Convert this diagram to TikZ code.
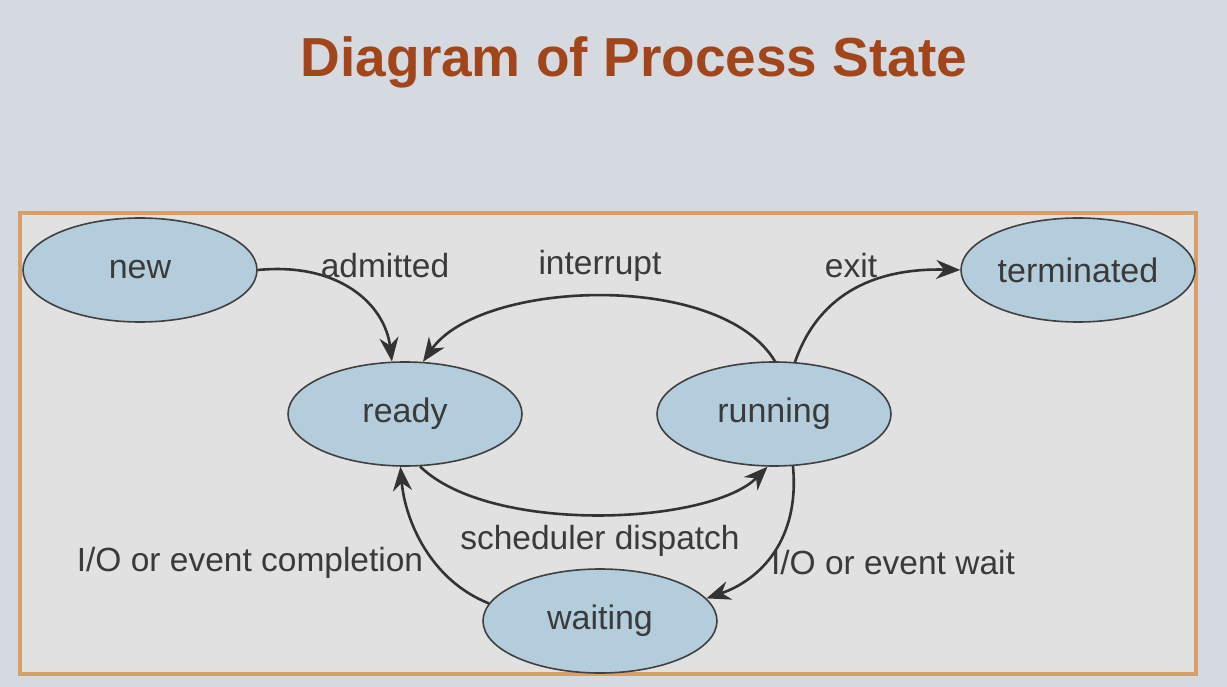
\documentclass[tikz,border=0pt]{standalone}
\usepackage{fontspec}
\setmainfont{Liberation Sans}
\usetikzlibrary{shapes.geometric, arrows.meta}

\definecolor{slidebg}{HTML}{D4DAE0}
\definecolor{panelbg}{HTML}{E1E1E1}
\definecolor{panelframe}{HTML}{D49F68}
\definecolor{titlerust}{HTML}{A2451B}
\definecolor{statefill}{HTML}{B4CDDD}
\definecolor{inktext}{HTML}{3A3A3A}

\tikzset{
    state/.style={ellipse, draw=black!75, line width=1.6pt, fill=statefill,
        minimum width=234pt, minimum height=104pt, inner sep=0pt,
        text=inktext, font=\fontsize{34}{38}\selectfont},
    trans/.style={line width=2.6pt, draw=black!80,
        -{Stealth[length=24pt,width=19pt]}},
    lbl/.style={text=inktext, font=\fontsize{33.5}{38}\selectfont}
}

\begin{document}
\begin{tikzpicture}[x=1pt, y=-1pt]
    % Slide background and panel
    \fill[slidebg] (0,0) rectangle (1227,687);
    \useasboundingbox (0,0) rectangle (1227,687);
    \draw[panelframe, line width=4pt, fill=panelbg] (20,213) rectangle (1196,674);

    % Title
    \node[text=titlerust, font=\bfseries\fontsize{55}{62}\selectfont] (title) at (634,62) {Diagram of Process State};

    % The states
    \node[state] (new) at (140,270) {new};
    \node[state] (terminated) at (1078,270) {terminated};
    \node[state] (ready) at (405,414) {ready};
    \node[state] (running) at (774,414) {running};
    \node[state] (waiting) at (600,621) {waiting};

    % Transitions
    \draw[trans] (new.east) .. controls (340,262) and (385,305) .. (ready.104);
    \draw[trans] (running.89) .. controls (720,270) and (480,280) .. (ready.71);
    \draw[trans] (running.68) .. controls (820,290) and (880,268) .. (terminated.west);
    \draw[trans] (ready.286) .. controls (490,535) and (710,525) .. (running.263);
    \draw[trans] (running.290) .. controls (800,540) and (760,580) .. (waiting.12);
    \draw[trans] (waiting.171) .. controls (430,580) and (405,520) .. (ready.265);

    % Transition labels
    \node[lbl] (admittedlbl) at (385,266) {admitted};
    \node[lbl] (interruptlbl) at (600,266) {interrupt};
    \node[lbl] (exitlbl) at (851,266) {exit};
    \node[lbl] (dispatchlbl) at (600,541) {scheduler dispatch};
    \node[lbl] (completionlbl) at (250,563) {I/O or event completion};
    \node[lbl] (waitlbl) at (893,563) {I/O or event wait};
\end{tikzpicture}
\end{document}
